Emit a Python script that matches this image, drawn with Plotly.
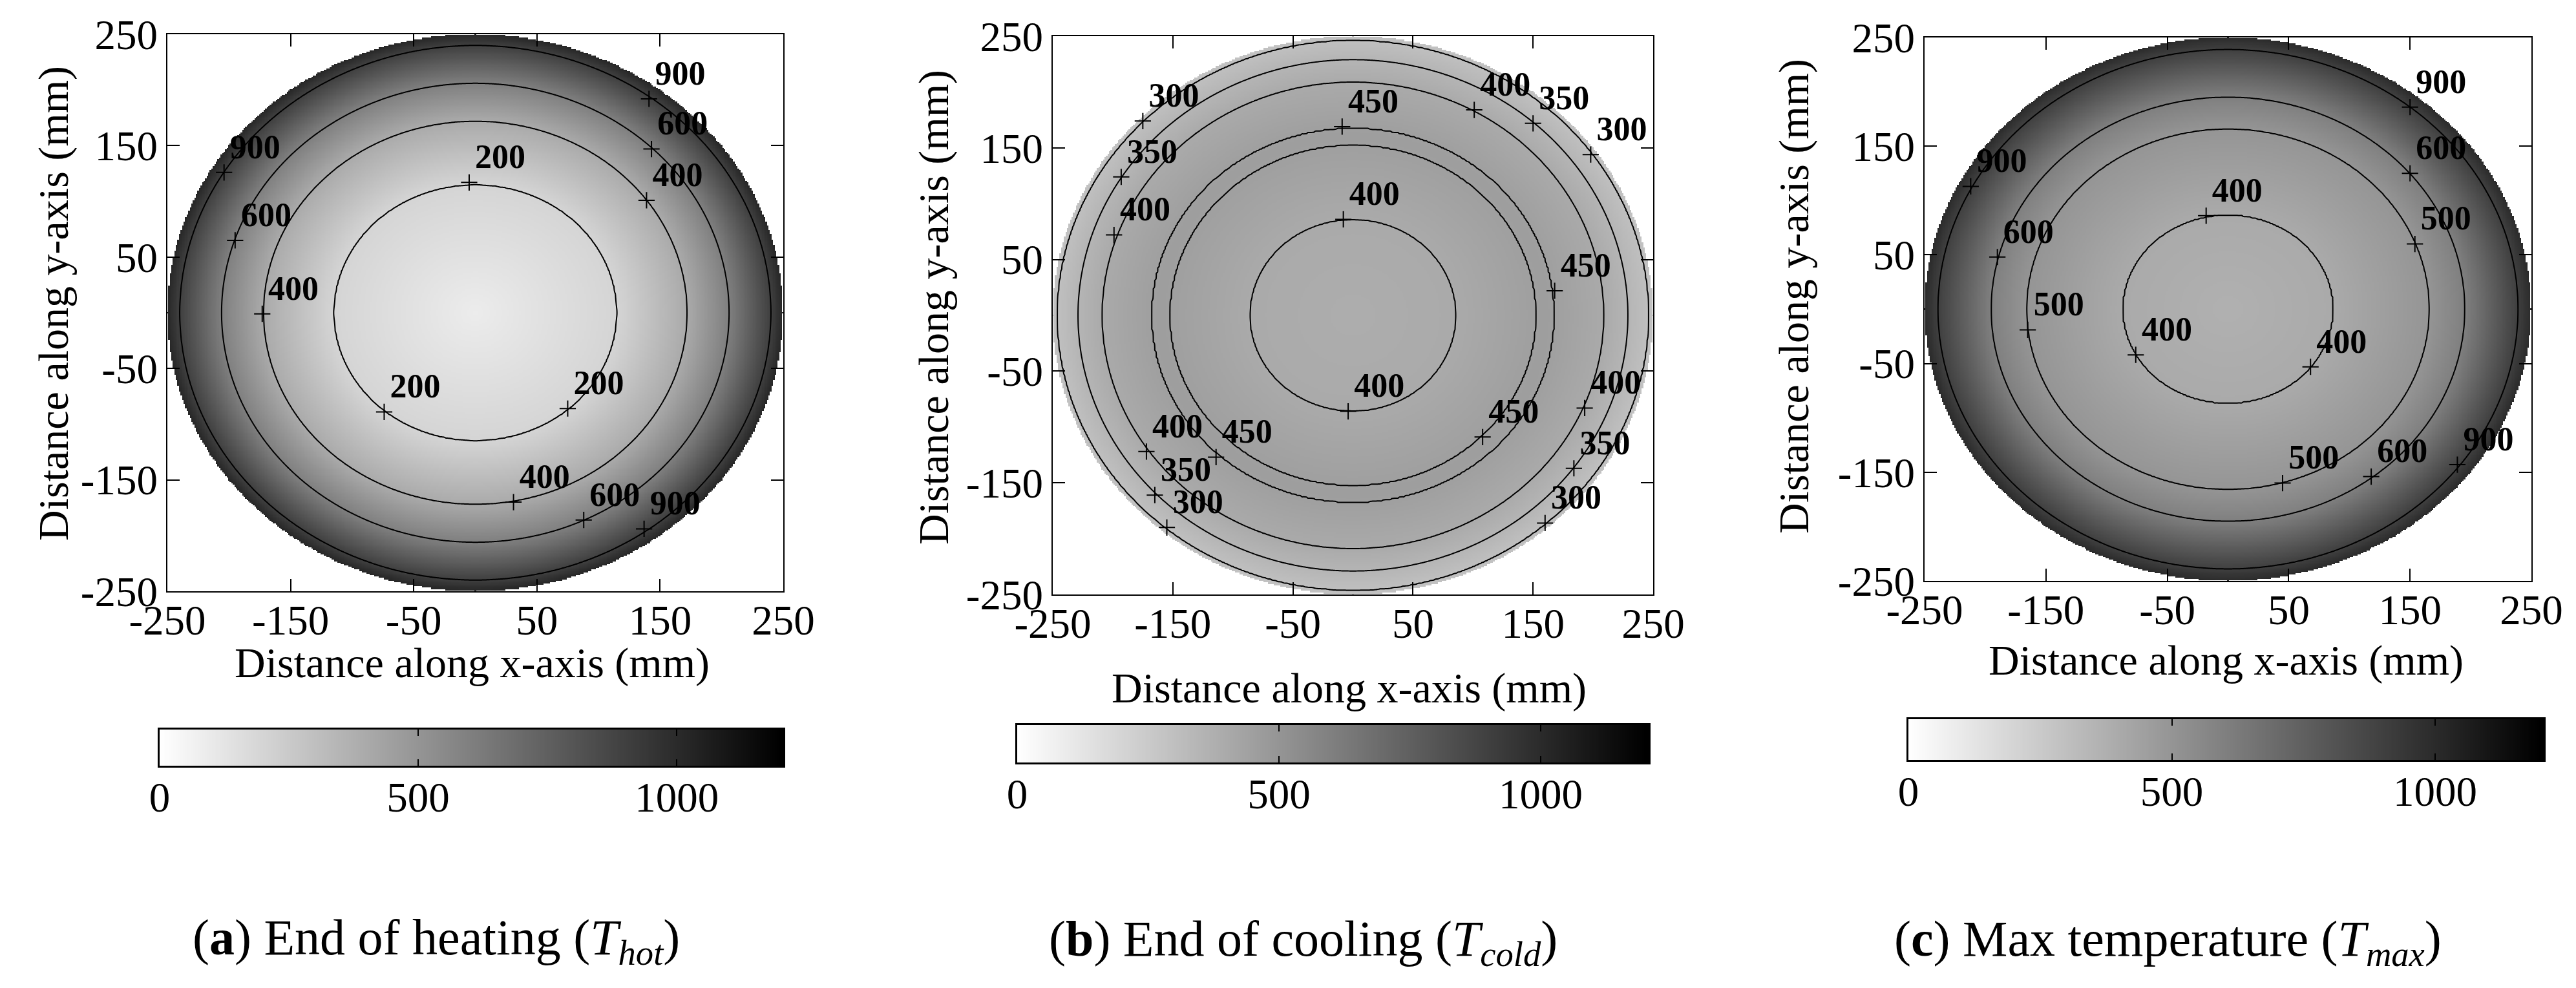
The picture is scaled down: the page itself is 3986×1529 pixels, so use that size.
import numpy as np
import plotly.graph_objects as go

W, H = 3986, 1529

# ---------------- data ----------------
# Isotherm radii (mm from plate centre) and the temperatures at them
hot_radius = [0, 115, 172, 206, 240, 250]
hot_temp = [90, 200, 400, 600, 900, 1020]
cold_radius = [0, 86, 152, 160, 168, 209, 229, 246, 250]
cold_temp = [385, 400, 450, 458, 450, 400, 350, 300, 285]
max_radius = [0, 87, 166, 195, 239, 250]
max_temp = [370, 400, 500, 600, 900, 1000]

# contour levels drawn in each panel
hot_levels = [200, 400, 600, 900]
cold_levels = [300, 350, 400, 450]
max_levels = [400, 500, 600, 900]

# contour label positions (mm) and texts
hot_lab_x = [141, 143, 139, -5, -204, -195, -173, -74, 75, 31, 88, 137]
hot_lab_y = [192, 147, 101, 117, 126, 65, -1, -89, -86, -170, -186, -194]
hot_lab_t = ["900", "600", "400", "200", "900", "600", "400", "200", "200", "400", "600", "900"]

cold_lab_x = [-175, -193, -199, -9, 101, 150, 198, -8, 168, -4, 193, 108, 184, 160, -172, -114, -165, -155]
cold_lab_y = [174, 124, 72, 169, 184, 172, 144, 86, 22, -86, -83, -109, -137, -186, -122, -127, -161, -190]
cold_lab_t = ["300", "350", "400", "450", "400", "350", "300", "400", "450", "400", "400", "450", "350", "300",
              "400", "450", "350", "300"]

max_lab_x = [-212, -190, -165, -18, -76, 68, 150, 150, 154, 45, 118, 189]
max_lab_y = [113, 48, -19, 86, -42, -53, 186, 125, 60, -160, -154, -143]
max_lab_t = ["900", "600", "500", "400", "400", "400", "900", "600", "500", "500", "600", "900"]

axis_tick_vals = [-250, -150, -50, 50, 150, 250]
axis_tick_text = ["-250", "-150", "-50", "50", "150", "250"]
cbar_tick_vals = [0, 500, 1000]
cbar_tick_text = ["0", "500", "1000"]
temp_min, temp_max = 0, 1200
cbar_max = 1206
plate_radius = 250

x_title = "Distance along x-axis (mm)"
y_title = "Distance along y-axis (mm)"
captions = [
    "(<b>a</b>) End of heating (<i>T</i><sub><i>hot</i></sub>)",
    "(<b>b</b>) End of cooling (<i>T</i><sub><i>cold</i></sub>)",
    "(<b>c</b>) Max temperature (<i>T</i><sub><i>max</i></sub>)",
]

# ---------------- layout (pixel boxes) ----------------
FONT = "Liberation Serif"
panels = [  # x0, x1, y0(top), y1(bottom) in pixels
    dict(box=(251, 1204, 45, 907), cbar=(239, 1204, 1121, 1177),
         ytitle=(75, 462), xtitle=(722, 1018), cap=(667, 1448)),
    dict(box=(1621, 2550, 48, 912), cbar=(1566, 2543, 1114, 1172),
         ytitle=(1437, 468), xtitle=(2079, 1057), cap=(2008, 1450)),
    dict(box=(2970, 3909, 50, 891), cbar=(2945, 3928, 1105, 1168),
         ytitle=(2768, 451), xtitle=(3436, 1014), cap=(3346, 1450)),
]
profiles = [(hot_radius, hot_temp, hot_levels, hot_lab_x, hot_lab_y, hot_lab_t),
            (cold_radius, cold_temp, cold_levels, cold_lab_x, cold_lab_y, cold_lab_t),
            (max_radius, max_temp, max_levels, max_lab_x, max_lab_y, max_lab_t)]


def px(x):
    return x / W


def py(y):
    return 1 - y / H


coords = np.linspace(-plate_radius, plate_radius, 401)
XX, YY = np.meshgrid(coords, coords)
RR = np.hypot(XX, YY)

gray = [[0, "#ffffff"], [1, "#000000"]]
fig = go.Figure()
layout = dict(width=W, height=H, margin=dict(l=0, r=0, t=0, b=0, pad=0, autoexpand=False),
              paper_bgcolor="white", plot_bgcolor="white", showlegend=False,
              font=dict(family=FONT, color="black"), annotations=[])

for i, (p, prof) in enumerate(zip(panels, profiles)):
    radius, temp, levels, lx, ly, lt = prof
    n = i + 1
    xa, ya = f"x{n}", f"y{n}"
    T = np.interp(RR, radius, temp)
    Tmask = np.where(RR <= plate_radius, np.round(T, 1), np.nan)
    fig.add_trace(go.Heatmap(x=coords, y=coords, z=Tmask, colorscale=gray, zmin=temp_min, zmax=temp_max,
                             showscale=False, hoverinfo="skip", xaxis=xa, yaxis=ya))
    # monotonic remap so uneven levels become evenly spaced contour indices
    ext = [temp_min - 1] + levels + [temp_max + 1]
    zc = np.round(np.interp(T, ext, list(range(len(ext)))), 4)
    fig.add_trace(go.Contour(x=coords, y=coords, z=zc,
                             contours=dict(start=1, end=len(levels), size=1, coloring="lines"),
                             colorscale=[[0, "black"], [1, "black"]], line=dict(width=2, color="black"),
                             showscale=False, hoverinfo="skip", xaxis=xa, yaxis=ya))
    # label crosses
    fig.add_trace(go.Scatter(x=lx, y=ly, mode="markers", cliponaxis=False,
                             marker=dict(symbol="cross-thin", size=18, color="black",
                                         line=dict(width=2, color="black")),
                             hoverinfo="skip", xaxis=xa, yaxis=ya))
    # label texts (invisible marker only sets the text offset)
    fig.add_trace(go.Scatter(x=lx, y=ly, mode="markers+text", text=[f"<b>{t}</b>" for t in lt],
                             textposition="top right", cliponaxis=False,
                             marker=dict(size=13, opacity=0, color="black"),
                             textfont=dict(family=FONT, size=52, color="black"),
                             hoverinfo="skip", xaxis=xa, yaxis=ya))
    x0, x1, y0, y1 = p["box"]
    ax = dict(range=[-plate_radius, plate_radius], tickvals=axis_tick_vals, ticktext=axis_tick_text,
              ticks="inside", ticklen=19, tickwidth=2, tickcolor="black", showline=True, linewidth=2,
              linecolor="black", mirror="ticks", showgrid=False, zeroline=False, automargin=False,
              tickfont=dict(family=FONT, size=65, color="black"))
    layout[f"xaxis{n}"] = dict(ax, domain=[px(x0), px(x1)], anchor=ya, ticklabelstandoff=-13)
    layout[f"yaxis{n}"] = dict(ax, domain=[py(y1), py(y0)], anchor=xa)

    # colour bar as its own small axis pair
    m = n + 3
    cx0, cx1, cy0, cy1 = p["cbar"]
    ramp = np.linspace(temp_min, cbar_max, 600)
    fig.add_trace(go.Heatmap(x=ramp, y=[0, 1], z=[ramp, ramp], colorscale=gray, zmin=temp_min, zmax=temp_max,
                             showscale=False, hoverinfo="skip", xaxis=f"x{m}", yaxis=f"y{m}"))
    layout[f"xaxis{m}"] = dict(domain=[px(cx0), px(cx1)], anchor=f"y{m}", range=[temp_min, cbar_max],
                               tickvals=cbar_tick_vals, ticktext=cbar_tick_text, ticks="inside", ticklen=10,
                               tickwidth=2, tickcolor="black", showline=True, linewidth=3, linecolor="black",
                               mirror="ticks", showgrid=False, zeroline=False, automargin=False,
                               ticklabelstandoff=-10,
                               tickfont=dict(family=FONT, size=65, color="black"))
    layout[f"yaxis{m}"] = dict(domain=[py(cy1), py(cy0)], anchor=f"x{m}", range=[0, 1], showticklabels=False,
                               ticks="", showline=True, linewidth=3, linecolor="black", mirror=True,
                               showgrid=False, zeroline=False, automargin=False)

    tx, ty = p["ytitle"]
    layout["annotations"].append(dict(text=y_title, x=px(tx), y=py(ty), xref="paper", yref="paper",
                                      textangle=-90, showarrow=False, xanchor="center", yanchor="middle",
                                      font=dict(family=FONT, size=66, color="black")))
    tx, ty = p["xtitle"]
    layout["annotations"].append(dict(text=x_title, x=px(tx), y=py(ty), xref="paper", yref="paper",
                                      showarrow=False, xanchor="center", yanchor="middle",
                                      font=dict(family=FONT, size=66, color="black")))
    tx, ty = p["cap"]
    layout["annotations"].append(dict(text=captions[i], x=px(tx), y=py(ty), xref="paper", yref="paper",
                                      showarrow=False, xanchor="center", yanchor="middle",
                                      font=dict(family=FONT, size=78, color="black")))

fig.update_layout(**layout)
fig.write_html("out.html")
